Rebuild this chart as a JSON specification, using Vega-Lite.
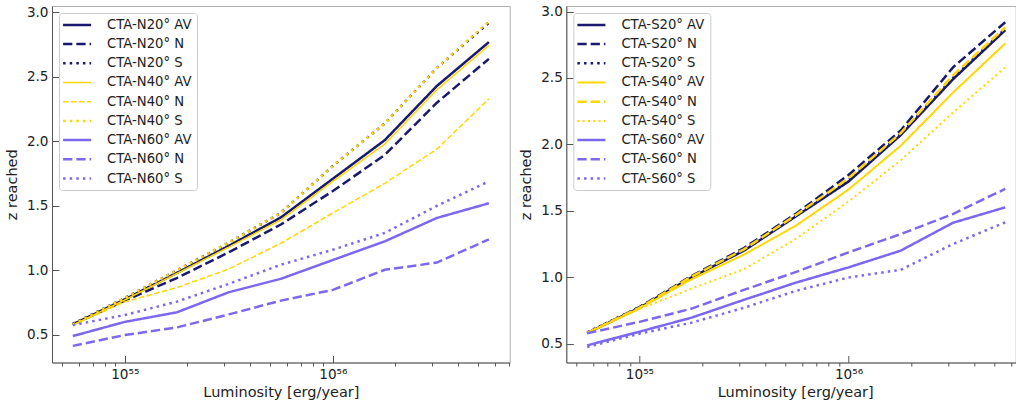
{
  "$schema": "https://vega.github.io/schema/vega-lite/v6.json",
  "background": "white",
  "padding": {"left": 3, "top": 4, "right": 0, "bottom": 0},
  "bounds": "flush",
  "spacing": 56.3,
  "config": {
    "font": "DejaVu Sans",
    "view": {"stroke": "#b0b0b0", "strokeWidth": 1},
    "axis": {
      "labelFont": "DejaVu Sans", "titleFont": "DejaVu Sans",
      "labelFontSize": 13.6, "titleFontSize": 14.5, "titleFontWeight": "normal",
      "labelColor": "#222222", "titleColor": "#222222",
      "domainColor": "#555555", "tickColor": "#555555", "domainWidth": 1, "tickWidth": 1,
      "grid": false
    },
    "legend": {
      "labelFont": "DejaVu Sans", "labelFontSize": 13.2, "labelColor": "#222222", "labelLimit": 0
    },
    "line": {"strokeCap": "butt"}
  },
  "datasets": {
    "north": [
      {"s": "CTA-N20° AV", "L": 5.623e54, "z": 0.58}, {"s": "CTA-N20° AV", "L": 1e55, "z": 0.775}, {"s": "CTA-N20° AV", "L": 1.778e55, "z": 0.98}, {"s": "CTA-N20° AV", "L": 3.162e55, "z": 1.19}, {"s": "CTA-N20° AV", "L": 5.623e55, "z": 1.41}, {"s": "CTA-N20° AV", "L": 1e56, "z": 1.71}, {"s": "CTA-N20° AV", "L": 1.778e56, "z": 2.01}, {"s": "CTA-N20° AV", "L": 3.162e56, "z": 2.43}, {"s": "CTA-N20° AV", "L": 5.623e56, "z": 2.77},
      {"s": "CTA-N20° N", "L": 5.623e54, "z": 0.58}, {"s": "CTA-N20° N", "L": 1e55, "z": 0.765}, {"s": "CTA-N20° N", "L": 1.778e55, "z": 0.94}, {"s": "CTA-N20° N", "L": 3.162e55, "z": 1.14}, {"s": "CTA-N20° N", "L": 5.623e55, "z": 1.355}, {"s": "CTA-N20° N", "L": 1e56, "z": 1.615}, {"s": "CTA-N20° N", "L": 1.778e56, "z": 1.895}, {"s": "CTA-N20° N", "L": 3.162e56, "z": 2.3}, {"s": "CTA-N20° N", "L": 5.623e56, "z": 2.64},
      {"s": "CTA-N20° S", "L": 5.623e54, "z": 0.585}, {"s": "CTA-N20° S", "L": 1e55, "z": 0.785}, {"s": "CTA-N20° S", "L": 1.778e55, "z": 1.0}, {"s": "CTA-N20° S", "L": 3.162e55, "z": 1.215}, {"s": "CTA-N20° S", "L": 5.623e55, "z": 1.445}, {"s": "CTA-N20° S", "L": 1e56, "z": 1.81}, {"s": "CTA-N20° S", "L": 1.778e56, "z": 2.14}, {"s": "CTA-N20° S", "L": 3.162e56, "z": 2.57}, {"s": "CTA-N20° S", "L": 5.623e56, "z": 2.92},
      {"s": "CTA-N40° AV", "L": 5.623e54, "z": 0.575}, {"s": "CTA-N40° AV", "L": 1e55, "z": 0.77}, {"s": "CTA-N40° AV", "L": 1.778e55, "z": 0.975}, {"s": "CTA-N40° AV", "L": 3.162e55, "z": 1.18}, {"s": "CTA-N40° AV", "L": 5.623e55, "z": 1.39}, {"s": "CTA-N40° AV", "L": 1e56, "z": 1.69}, {"s": "CTA-N40° AV", "L": 1.778e56, "z": 1.98}, {"s": "CTA-N40° AV", "L": 3.162e56, "z": 2.4}, {"s": "CTA-N40° AV", "L": 5.623e56, "z": 2.745},
      {"s": "CTA-N40° N", "L": 5.623e54, "z": 0.575}, {"s": "CTA-N40° N", "L": 1e55, "z": 0.755}, {"s": "CTA-N40° N", "L": 1.778e55, "z": 0.866}, {"s": "CTA-N40° N", "L": 3.162e55, "z": 1.01}, {"s": "CTA-N40° N", "L": 5.623e55, "z": 1.21}, {"s": "CTA-N40° N", "L": 1e56, "z": 1.445}, {"s": "CTA-N40° N", "L": 1.778e56, "z": 1.675}, {"s": "CTA-N40° N", "L": 3.162e56, "z": 1.94}, {"s": "CTA-N40° N", "L": 5.623e56, "z": 2.33},
      {"s": "CTA-N40° S", "L": 5.623e54, "z": 0.58}, {"s": "CTA-N40° S", "L": 1e55, "z": 0.785}, {"s": "CTA-N40° S", "L": 1.778e55, "z": 1.0}, {"s": "CTA-N40° S", "L": 3.162e55, "z": 1.215}, {"s": "CTA-N40° S", "L": 5.623e55, "z": 1.445}, {"s": "CTA-N40° S", "L": 1e56, "z": 1.81}, {"s": "CTA-N40° S", "L": 1.778e56, "z": 2.14}, {"s": "CTA-N40° S", "L": 3.162e56, "z": 2.57}, {"s": "CTA-N40° S", "L": 5.623e56, "z": 2.93},
      {"s": "CTA-N60° AV", "L": 5.623e54, "z": 0.49}, {"s": "CTA-N60° AV", "L": 1e55, "z": 0.6}, {"s": "CTA-N60° AV", "L": 1.778e55, "z": 0.674}, {"s": "CTA-N60° AV", "L": 3.162e55, "z": 0.83}, {"s": "CTA-N60° AV", "L": 5.623e55, "z": 0.934}, {"s": "CTA-N60° AV", "L": 1e56, "z": 1.08}, {"s": "CTA-N60° AV", "L": 1.778e56, "z": 1.225}, {"s": "CTA-N60° AV", "L": 3.162e56, "z": 1.406}, {"s": "CTA-N60° AV", "L": 5.623e56, "z": 1.52},
      {"s": "CTA-N60° N", "L": 5.623e54, "z": 0.414}, {"s": "CTA-N60° N", "L": 1e55, "z": 0.498}, {"s": "CTA-N60° N", "L": 1.778e55, "z": 0.557}, {"s": "CTA-N60° N", "L": 3.162e55, "z": 0.658}, {"s": "CTA-N60° N", "L": 5.623e55, "z": 0.765}, {"s": "CTA-N60° N", "L": 1e56, "z": 0.848}, {"s": "CTA-N60° N", "L": 1.778e56, "z": 1.004}, {"s": "CTA-N60° N", "L": 3.162e56, "z": 1.06}, {"s": "CTA-N60° N", "L": 5.623e56, "z": 1.24},
      {"s": "CTA-N60° S", "L": 5.623e54, "z": 0.575}, {"s": "CTA-N60° S", "L": 1e55, "z": 0.653}, {"s": "CTA-N60° S", "L": 1.778e55, "z": 0.757}, {"s": "CTA-N60° S", "L": 3.162e55, "z": 0.895}, {"s": "CTA-N60° S", "L": 5.623e55, "z": 1.043}, {"s": "CTA-N60° S", "L": 1e56, "z": 1.16}, {"s": "CTA-N60° S", "L": 1.778e56, "z": 1.29}, {"s": "CTA-N60° S", "L": 3.162e56, "z": 1.5}, {"s": "CTA-N60° S", "L": 5.623e56, "z": 1.69}
    ],
    "south": [
      {"s": "CTA-S20° AV", "L": 5.623e54, "z": 0.58}, {"s": "CTA-S20° AV", "L": 1e55, "z": 0.77}, {"s": "CTA-S20° AV", "L": 1.778e55, "z": 1.0}, {"s": "CTA-S20° AV", "L": 3.162e55, "z": 1.2}, {"s": "CTA-S20° AV", "L": 5.623e55, "z": 1.46}, {"s": "CTA-S20° AV", "L": 1e56, "z": 1.72}, {"s": "CTA-S20° AV", "L": 1.778e56, "z": 2.07}, {"s": "CTA-S20° AV", "L": 3.162e56, "z": 2.49}, {"s": "CTA-S20° AV", "L": 5.623e56, "z": 2.86},
      {"s": "CTA-S20° N", "L": 5.623e54, "z": 0.58}, {"s": "CTA-S20° N", "L": 1e55, "z": 0.775}, {"s": "CTA-S20° N", "L": 1.778e55, "z": 1.01}, {"s": "CTA-S20° N", "L": 3.162e55, "z": 1.22}, {"s": "CTA-S20° N", "L": 5.623e55, "z": 1.48}, {"s": "CTA-S20° N", "L": 1e56, "z": 1.77}, {"s": "CTA-S20° N", "L": 1.778e56, "z": 2.105}, {"s": "CTA-S20° N", "L": 3.162e56, "z": 2.58}, {"s": "CTA-S20° N", "L": 5.623e56, "z": 2.92},
      {"s": "CTA-S20° S", "L": 5.623e54, "z": 0.585}, {"s": "CTA-S20° S", "L": 1e55, "z": 0.775}, {"s": "CTA-S20° S", "L": 1.778e55, "z": 1.005}, {"s": "CTA-S20° S", "L": 3.162e55, "z": 1.21}, {"s": "CTA-S20° S", "L": 5.623e55, "z": 1.465}, {"s": "CTA-S20° S", "L": 1e56, "z": 1.73}, {"s": "CTA-S20° S", "L": 1.778e56, "z": 2.08}, {"s": "CTA-S20° S", "L": 3.162e56, "z": 2.5}, {"s": "CTA-S20° S", "L": 5.623e56, "z": 2.87},
      {"s": "CTA-S40° AV", "L": 5.623e54, "z": 0.58}, {"s": "CTA-S40° AV", "L": 1e55, "z": 0.765}, {"s": "CTA-S40° AV", "L": 1.778e55, "z": 0.985}, {"s": "CTA-S40° AV", "L": 3.162e55, "z": 1.17}, {"s": "CTA-S40° AV", "L": 5.623e55, "z": 1.39}, {"s": "CTA-S40° AV", "L": 1e56, "z": 1.66}, {"s": "CTA-S40° AV", "L": 1.778e56, "z": 1.99}, {"s": "CTA-S40° AV", "L": 3.162e56, "z": 2.39}, {"s": "CTA-S40° AV", "L": 5.623e56, "z": 2.76},
      {"s": "CTA-S40° N", "L": 5.623e54, "z": 0.58}, {"s": "CTA-S40° N", "L": 1e55, "z": 0.77}, {"s": "CTA-S40° N", "L": 1.778e55, "z": 1.005}, {"s": "CTA-S40° N", "L": 3.162e55, "z": 1.21}, {"s": "CTA-S40° N", "L": 5.623e55, "z": 1.47}, {"s": "CTA-S40° N", "L": 1e56, "z": 1.745}, {"s": "CTA-S40° N", "L": 1.778e56, "z": 2.085}, {"s": "CTA-S40° N", "L": 3.162e56, "z": 2.52}, {"s": "CTA-S40° N", "L": 5.623e56, "z": 2.88},
      {"s": "CTA-S40° S", "L": 5.623e54, "z": 0.58}, {"s": "CTA-S40° S", "L": 1e55, "z": 0.76}, {"s": "CTA-S40° S", "L": 1.778e55, "z": 0.915}, {"s": "CTA-S40° S", "L": 3.162e55, "z": 1.06}, {"s": "CTA-S40° S", "L": 5.623e55, "z": 1.29}, {"s": "CTA-S40° S", "L": 1e56, "z": 1.57}, {"s": "CTA-S40° S", "L": 1.778e56, "z": 1.88}, {"s": "CTA-S40° S", "L": 3.162e56, "z": 2.24}, {"s": "CTA-S40° S", "L": 5.623e56, "z": 2.58},
      {"s": "CTA-S60° AV", "L": 5.623e54, "z": 0.487}, {"s": "CTA-S60° AV", "L": 1e55, "z": 0.59}, {"s": "CTA-S60° AV", "L": 1.778e55, "z": 0.696}, {"s": "CTA-S60° AV", "L": 3.162e55, "z": 0.83}, {"s": "CTA-S60° AV", "L": 5.623e55, "z": 0.96}, {"s": "CTA-S60° AV", "L": 1e56, "z": 1.074}, {"s": "CTA-S60° AV", "L": 1.778e56, "z": 1.2}, {"s": "CTA-S60° AV", "L": 3.162e56, "z": 1.41}, {"s": "CTA-S60° AV", "L": 5.623e56, "z": 1.526},
      {"s": "CTA-S60° N", "L": 5.623e54, "z": 0.578}, {"s": "CTA-S60° N", "L": 1e55, "z": 0.664}, {"s": "CTA-S60° N", "L": 1.778e55, "z": 0.764}, {"s": "CTA-S60° N", "L": 3.162e55, "z": 0.905}, {"s": "CTA-S60° N", "L": 5.623e55, "z": 1.04}, {"s": "CTA-S60° N", "L": 1e56, "z": 1.187}, {"s": "CTA-S60° N", "L": 1.778e56, "z": 1.325}, {"s": "CTA-S60° N", "L": 3.162e56, "z": 1.476}, {"s": "CTA-S60° N", "L": 5.623e56, "z": 1.665},
      {"s": "CTA-S60° S", "L": 5.623e54, "z": 0.475}, {"s": "CTA-S60° S", "L": 1e55, "z": 0.575}, {"s": "CTA-S60° S", "L": 1.778e55, "z": 0.658}, {"s": "CTA-S60° S", "L": 3.162e55, "z": 0.77}, {"s": "CTA-S60° S", "L": 5.623e55, "z": 0.898}, {"s": "CTA-S60° S", "L": 1e56, "z": 0.998}, {"s": "CTA-S60° S", "L": 1.778e56, "z": 1.056}, {"s": "CTA-S60° S", "L": 3.162e56, "z": 1.25}, {"s": "CTA-S60° S", "L": 5.623e56, "z": 1.413}
    ]
  },
  "resolve": {
    "scale": {"color": "independent", "strokeDash": "independent", "x": "independent", "y": "independent"},
    "legend": {"color": "independent", "strokeDash": "independent"}
  },
  "hconcat": [
    {
      "width": 457.7,
      "height": 356.5,
      "data": {"name": "north"},
      "resolve": {"axis": {"x": "independent"}},
      "layer": [
        {
          "mark": {"type": "line"},
          "encoding": {
            "x": {
              "field": "L", "type": "quantitative",
              "scale": {"type": "log", "domain": [4.4668e54, 7.0795e56], "nice": false},
              "axis": {"orient": "bottom", "values": [1e55, 1e56], "labelExpr": "datum.value < 3e55 ? '10⁵⁵' : '10⁵⁶'", "title": "Luminosity [erg/year]", "tickSize": -7, "labelPadding": 12, "titlePadding": 4, "labelFlush": false, "labelOverlap": false}
            },
            "y": {
              "field": "z", "type": "quantitative",
              "scale": {"domain": [0.285, 3.05], "nice": false, "zero": false},
              "axis": {"values": [0.5, 1, 1.5, 2, 2.5, 3], "format": ".1f", "title": "z reached", "tickSize": -7, "labelPadding": 11, "titlePadding": 7}
            },
            "color": {
              "field": "s", "type": "nominal",
              "scale": {"domain": ["CTA-N20° AV", "CTA-N20° N", "CTA-N20° S", "CTA-N40° AV", "CTA-N40° N", "CTA-N40° S", "CTA-N60° AV", "CTA-N60° N", "CTA-N60° S"],
                        "range": ["#191970", "#191970", "#191970", "#FFD700", "#FFD700", "#FFD700", "#7B68EE", "#7B68EE", "#7B68EE"]},
              "legend": {"title": null, "orient": "top-left", "offset": 6.5, "padding": 5.3, "fillColor": "rgba(255,255,255,0.8)", "strokeColor": "#cccccc", "cornerRadius": 3, "symbolType": "M-2,0H2", "symbolSize": 196, "symbolOffset": 6.2, "labelOffset": 23.4, "rowPadding": 5.2, "labelFontSize": 13.2, "symbolStrokeWidth": {"expr": "datum.value == 'CTA-N40° AV' || datum.value == 'CTA-N40° N' ? 1.5 : 2.5"}}
            },
            "strokeDash": {
              "field": "s", "type": "nominal",
              "scale": {"domain": ["CTA-N20° AV", "CTA-N20° N", "CTA-N20° S", "CTA-N40° AV", "CTA-N40° N", "CTA-N40° S", "CTA-N60° AV", "CTA-N60° N", "CTA-N60° S"],
                        "range": [[1, 0], [9.25, 4], [2.5, 4.1], [1, 0], [5.55, 2.4], [2.5, 4.1], [1, 0], [9.25, 4], [2.5, 4.1]]},
              "legend": {"title": null}
            },
            "strokeWidth": {"condition": {"test": "datum.s == 'CTA-N40° AV' || datum.s == 'CTA-N40° N'", "value": 1.5}, "value": 2.5}
          }
        },
        {
          "mark": {"type": "line", "opacity": 0},
          "encoding": {
            "x": {
              "field": "L", "type": "quantitative",
              "axis": {"orient": "bottom", "values": [5e54, 6e54, 7e54, 8e54, 9e54, 2e55, 3e55, 4e55, 5e55, 6e55, 7e55, 8e55, 9e55, 2e56, 3e56, 4e56, 5e56, 6e56, 7e56], "labels": false, "domain": false, "tickSize": 3.5, "title": null}
            },
            "y": {
              "field": "z", "type": "quantitative",
              "axis": {"values": [0.5, 1, 1.5, 2, 2.5, 3], "format": ".1f", "title": "z reached", "tickSize": -7, "labelPadding": 11, "titlePadding": 7}
            }
          }
        }
      ]
    },
    {
      "width": 449.4,
      "height": 356.5,
      "data": {"name": "south"},
      "resolve": {"axis": {"x": "independent"}},
      "layer": [
        {
          "mark": {"type": "line"},
          "encoding": {
            "x": {
              "field": "L", "type": "quantitative",
              "scale": {"type": "log", "domain": [4.4668e54, 6.3096e56], "nice": false},
              "axis": {"orient": "bottom", "values": [1e55, 1e56], "labelExpr": "datum.value < 3e55 ? '10⁵⁵' : '10⁵⁶'", "title": "Luminosity [erg/year]", "titleX": 228.9, "tickSize": -7, "labelPadding": 12, "titlePadding": 4, "labelFlush": false, "labelOverlap": false}
            },
            "y": {
              "field": "z", "type": "quantitative",
              "scale": {"domain": [0.358, 3.042], "nice": false, "zero": false},
              "axis": {"values": [0.5, 1, 1.5, 2, 2.5, 3], "format": ".1f", "title": "z reached", "tickSize": -7, "labelPadding": 11, "titlePadding": 7}
            },
            "color": {
              "field": "s", "type": "nominal",
              "scale": {"domain": ["CTA-S20° AV", "CTA-S20° N", "CTA-S20° S", "CTA-S40° AV", "CTA-S40° N", "CTA-S40° S", "CTA-S60° AV", "CTA-S60° N", "CTA-S60° S"],
                        "range": ["#191970", "#191970", "#191970", "#FFD700", "#FFD700", "#FFD700", "#7B68EE", "#7B68EE", "#7B68EE"]},
              "legend": {"title": null, "orient": "top-left", "offset": 6.5, "padding": 5.3, "fillColor": "rgba(255,255,255,0.8)", "strokeColor": "#cccccc", "cornerRadius": 3, "symbolType": "M-2,0H2", "symbolSize": 196, "symbolOffset": 6.2, "labelOffset": 23.4, "rowPadding": 5.2, "labelFontSize": 13.2, "symbolStrokeWidth": {"expr": "datum.value == 'CTA-S40° AV' || datum.value == 'CTA-S40° S' ? 2 : 2.5"}}
            },
            "strokeDash": {
              "field": "s", "type": "nominal",
              "scale": {"domain": ["CTA-S20° AV", "CTA-S20° N", "CTA-S20° S", "CTA-S40° AV", "CTA-S40° N", "CTA-S40° S", "CTA-S60° AV", "CTA-S60° N", "CTA-S60° S"],
                        "range": [[1, 0], [9.25, 4], [2.5, 4.1], [1, 0], [9.25, 4], [2, 3.3], [1, 0], [9.25, 4], [2.5, 4.1]]},
              "legend": {"title": null}
            },
            "strokeWidth": {"condition": {"test": "datum.s == 'CTA-S40° AV' || datum.s == 'CTA-S40° S'", "value": 2}, "value": 2.5}
          }
        },
        {
          "mark": {"type": "line", "opacity": 0},
          "encoding": {
            "x": {
              "field": "L", "type": "quantitative",
              "axis": {"orient": "bottom", "values": [5e54, 6e54, 7e54, 8e54, 9e54, 2e55, 3e55, 4e55, 5e55, 6e55, 7e55, 8e55, 9e55, 2e56, 3e56, 4e56, 5e56, 6e56], "labels": false, "domain": false, "tickSize": 3.5, "title": null}
            },
            "y": {
              "field": "z", "type": "quantitative",
              "axis": {"values": [0.5, 1, 1.5, 2, 2.5, 3], "format": ".1f", "title": "z reached", "tickSize": -7, "labelPadding": 11, "titlePadding": 7}
            }
          }
        }
      ]
    }
  ]
}
